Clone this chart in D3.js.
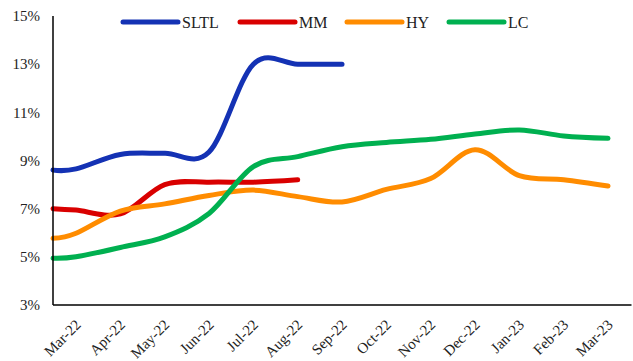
<!DOCTYPE html>
<html><head><meta charset="utf-8">
<script src="https://cdn.jsdelivr.net/npm/d3@7"></script>
<style>body{margin:0;background:#fff}svg{display:block}text{font-family:"Liberation Serif","Times New Roman",serif;fill:#222}</style>
</head><body><div id="chart"></div>
<script>
// Month labels on the x axis
const months = ["Mar-22","Apr-22","May-22","Jun-22","Jul-22","Aug-22","Sep-22","Oct-22","Nov-22","Dec-22","Jan-23","Feb-23","Mar-23"];
// Each series begins with an opening value half a month before Mar-22, then one value per month (%)
const sltl = [8.6, 8.65, 9.25, 9.3, 9.35, 13.0, 13.0, 13.0];
const mm   = [7.0, 6.94, 6.78, 8.0, 8.1, 8.1, 8.2];
const hy   = [5.77, 5.98, 6.9, 7.2, 7.55, 7.77, 7.5, 7.28, 7.8, 8.25, 9.45, 8.37, 8.2, 7.94];
const lc   = [4.94, 5.0, 5.39, 5.83, 6.8, 8.75, 9.16, 9.57, 9.75, 9.88, 10.1, 10.27, 10.02, 9.92];
const seriesNames = ["SLTL","MM","HY","LC"];
const seriesColors = ["#1432B4","#D90000","#FF8C00","#00B050"];
const yTicks = [3,5,7,9,11,13,15];

const W = 633, H = 361;
const svg = d3.select("#chart").append("svg").attr("width", W).attr("height", H);

// index -0.52 = opening point; 0..12 = months; axis runs to 12.53
const xStart = -0.52, xEnd = 12.53;
const x = d3.scaleLinear().domain([xStart, 12]).range([53, 608]);
const y = d3.scaleLinear().domain([3, 15]).range([305, 16]);

// y tick labels
svg.append("g").selectAll("text").data(yTicks).join("text")
  .attr("x", 40).attr("y", d => y(d)).attr("dy", "0.35em")
  .attr("text-anchor", "end").attr("font-size", 15)
  .text(d => d + "%");

// x labels
svg.append("g").selectAll("text").data(months).join("text")
  .attr("text-anchor", "end").attr("font-size", 15)
  .attr("transform", (d, i) => `translate(${x(i) + 2},${322}) rotate(-45)`)
  .attr("dy", "0.35em")
  .text(d => d);

const data = [sltl, mm, hy, lc];
const line = d3.line()
  .x((d, i) => x(i === 0 ? xStart : i - 1))
  .y(d => y(d))
  .curve(d3.curveCardinal.tension(0));

svg.append("g").selectAll("path").data(data).join("path")
  .attr("d", d => line(d))
  .attr("fill", "none")
  .attr("stroke", (d, i) => seriesColors[i])
  .attr("stroke-width", 5)
  .attr("stroke-linecap", "round")
  .attr("stroke-linejoin", "round");

// axes
svg.append("line").attr("x1", x(xStart)).attr("x2", x(xStart)).attr("y1", y(15)).attr("y2", y(3))
  .attr("stroke", "#000").attr("stroke-width", 1.5);
svg.append("line").attr("x1", x(xStart)).attr("x2", x(xEnd)).attr("y1", y(3)).attr("y2", y(3))
  .attr("stroke", "#000").attr("stroke-width", 1.5);

// legend
const legX = [123, 240, 347, 449];
const leg = svg.append("g").selectAll("g").data(seriesNames).join("g")
  .attr("transform", (d, i) => `translate(${legX[i]},22)`);
leg.append("line").attr("x1", 0).attr("x2", 55).attr("y1", 0).attr("y2", 0)
  .attr("stroke", (d, i) => seriesColors[i]).attr("stroke-width", 5).attr("stroke-linecap", "round");
leg.append("text").attr("x", 59).attr("y", 0).attr("dy", "0.35em").attr("font-size", 16).text(d => d);
</script>
</body></html>
